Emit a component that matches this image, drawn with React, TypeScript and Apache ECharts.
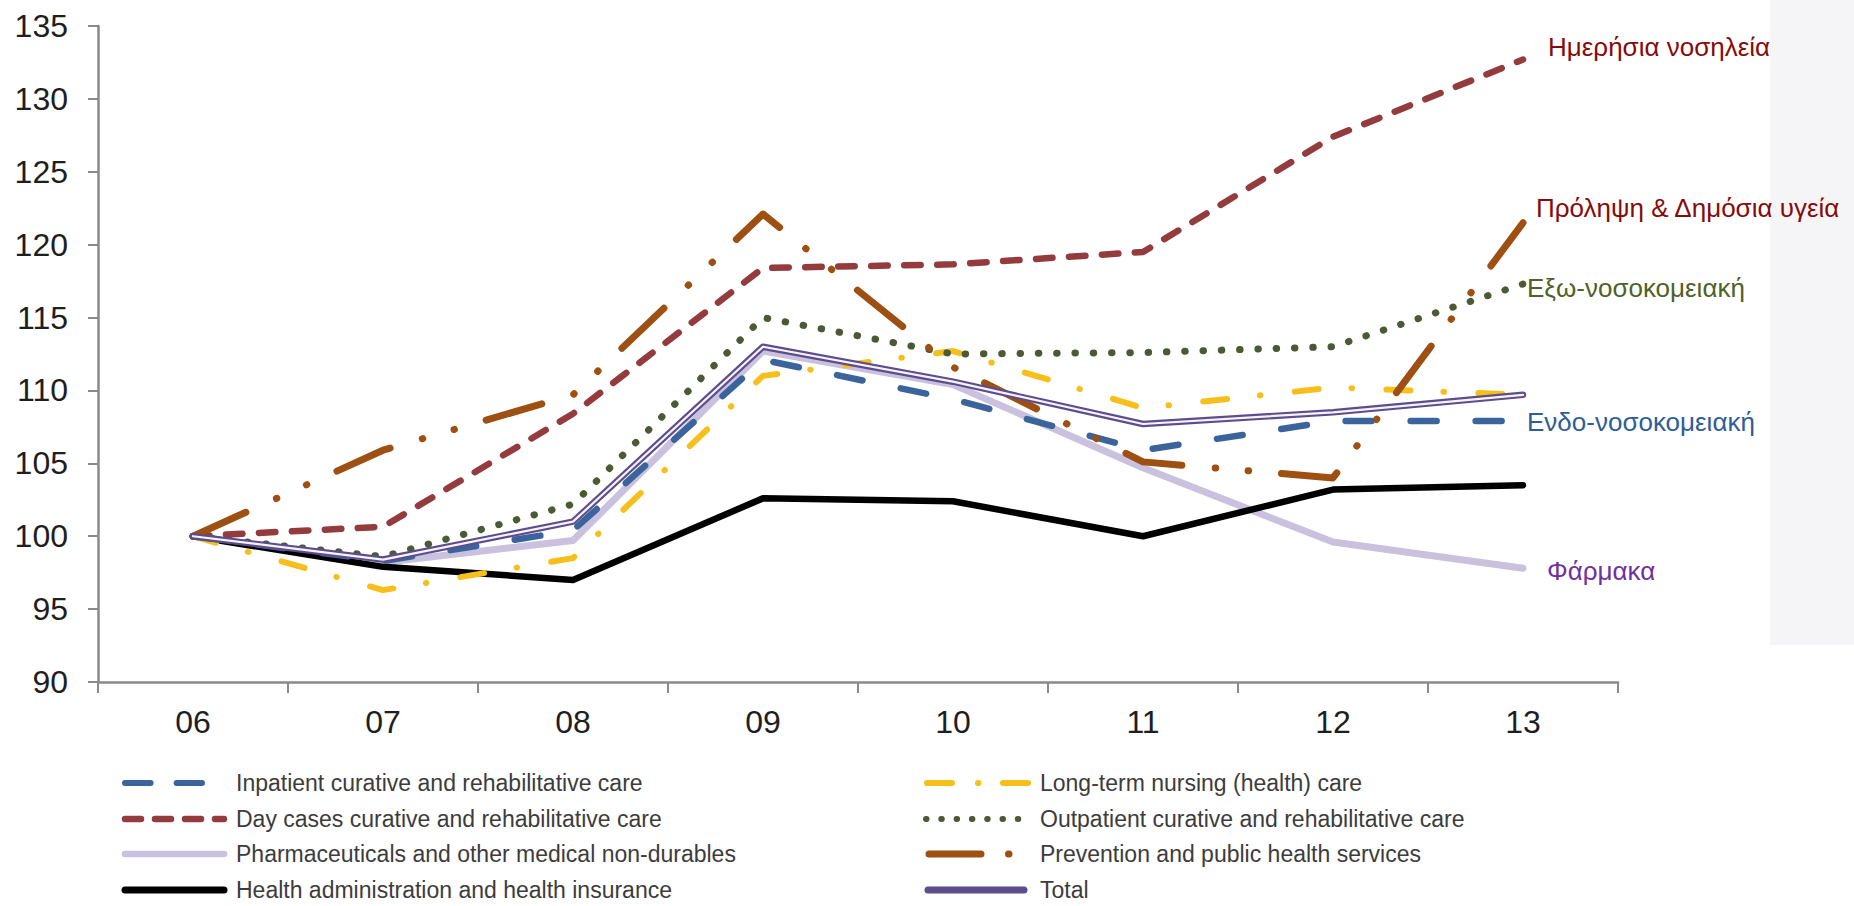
import React, { useEffect, useRef } from "react";
import * as echarts from "echarts";

const years = ["06", "07", "08", "09", "10", "11", "12", "13"];
const yMin = 90;
const yMax = 135;
const yStep = 5;

const inpatient = [100, 98.3, 100.4, 112.1, 109.4, 105.9, 107.9, 107.9];
const dayCases = [100, 100.65, 108.4, 118.4, 118.65, 119.5, 127.4, 132.7];
const pharma = [100, 98.2, 99.7, 112.7, 110.4, 104.7, 99.6, 97.8];
const healthAdmin = [100, 97.9, 97.0, 102.6, 102.4, 100.0, 103.2, 103.5];
const longTerm = [100, 96.3, 98.5, 111.0, 112.7, 108.8, 110.2, 109.7];
const outpatient = [100, 98.6, 102.2, 115.0, 112.5, 112.6, 113.0, 117.3];
const prevention = [100, 105.9, 109.7, 122.1, 111.6, 105.1, 104.0, 121.5];
const total = [100, 98.4, 101.0, 113.0, 110.6, 107.7, 108.5, 109.7];

const legendLeft = [
  "Inpatient curative and rehabilitative care",
  "Day cases curative and rehabilitative care",
  "Pharmaceuticals and other medical non-durables",
  "Health administration and health insurance",
];
const legendRight = [
  "Long-term nursing (health) care",
  "Outpatient curative and rehabilitative care",
  "Prevention and public health services",
  "Total",
];

const annotations = [
  { text: "Ημερήσια νοσηλεία", color: "#860B0B" },
  { text: "Πρόληψη & Δημόσια υγεία", color: "#860B0B" },
  { text: "Εξω-νοσοκομειακή", color: "#4F6228" },
  { text: "Ενδο-νοσοκομειακή", color: "#2F5D95" },
  { text: "Φάρμακα", color: "#7030A0" },
];

const C = {
  inpatient: "#3B649C",
  day: "#943B3D",
  pharma: "#C9C1DE",
  admin: "#000000",
  longTerm: "#F7BF1C",
  outpatient: "#4A5A35",
  prevention: "#9E4F12",
  total: "#5E4D8C",
};

const FONT = "'Liberation Sans', Arial, sans-serif";

export default function App() {
  const ref = useRef<HTMLDivElement>(null);

  useEffect(() => {
    if (!ref.current) return;
    const chart = echarts.init(ref.current, undefined, { renderer: "svg" });

    const mk = (name: string, data: number[], color: string, width: number, dash: any, z: number) => ({
      name,
      type: "line",
      data,
      symbol: "none",
      silent: true,
      z,
      lineStyle: { color, width, type: dash, cap: "round", join: "round" },
    });

    const series = [
      mk(legendLeft[2], pharma, C.pharma, 7, "solid", 2),
      mk(legendLeft[3], healthAdmin, C.admin, 6.5, "solid", 3),
      mk(legendRight[0], longTerm, C.longTerm, 6, [24, 33, 0.5, 34.5], 4),
      mk(legendLeft[0], inpatient, C.inpatient, 6.5, [26, 39], 5),
      mk(legendRight[1], outpatient, C.outpatient, 7, [0.5, 17.8], 6),
      mk(legendLeft[1], dayCases, C.day, 6.5, [16.5, 16.5], 7),
      mk(legendRight[2], prevention, C.prevention, 7, [58, 33.5, 0.5, 32.5, 0.5, 33], 8),
      mk(legendRight[3], total, C.total, 6.5, "solid", 9),
      mk("Total inner", total, "#f6f4fb", 2.2, "solid", 10),
    ];

    const rowsY = [783, 819, 854, 890];
    const legendGraphics: any[] = [];
    const legendTextStyle = { fill: "#3c3c3c", fontSize: 23, fontFamily: FONT, verticalAlign: "middle", align: "left" };
    const legendLines = [
      { x1: 125, x2: 202, y: rowsY[0], stroke: C.inpatient, w: 6, dash: [25.6, 26] },
      { x1: 125, x2: 224, y: rowsY[1], stroke: C.day, w: 6.5, dash: [16, 14] },
      { x1: 125, x2: 224, y: rowsY[2], stroke: C.pharma, w: 6.5, dash: null },
      { x1: 125, x2: 224, y: rowsY[3], stroke: C.admin, w: 7, dash: null },
      { x1: 927, x2: 1030, y: rowsY[0], stroke: C.longTerm, w: 6, dash: [25, 26, 0.5, 24.5] },
      { x1: 926, x2: 1033, y: rowsY[1], stroke: C.outpatient, w: 6, dash: [0.5, 14.8] },
      { x1: 929, x2: 1009, y: rowsY[2], stroke: C.prevention, w: 7, dash: [52, 27.5, 0.5, 30] },
      { x1: 928, x2: 1024, y: rowsY[3], stroke: C.total, w: 7, dash: null },
    ];
    legendLines.forEach((l) => {
      legendGraphics.push({
        type: "line",
        silent: true,
        shape: { x1: l.x1, y1: l.y, x2: l.x2, y2: l.y },
        style: { stroke: l.stroke, lineWidth: l.w, lineDash: l.dash || undefined, lineCap: "round" },
      });
    });
    legendLeft.forEach((t, i) => {
      legendGraphics.push({ type: "text", x: 236, y: rowsY[i], silent: true, style: { ...legendTextStyle, text: t } });
    });
    legendRight.forEach((t, i) => {
      legendGraphics.push({ type: "text", x: 1040, y: rowsY[i], silent: true, style: { ...legendTextStyle, text: t } });
    });

    const annPos = [
      { x: 1548, y: 47 },
      { x: 1536, y: 208 },
      { x: 1527, y: 288 },
      { x: 1527, y: 422 },
      { x: 1547, y: 571 },
    ];
    const annGraphics = annotations.map((a, i) => ({
      type: "text",
      x: annPos[i].x,
      y: annPos[i].y,
      silent: true,
      z: 20,
      style: { text: a.text, fill: a.color, fontSize: 26, fontFamily: FONT, verticalAlign: "middle", align: "left" },
    }));

    chart.setOption({
      animation: false,
      backgroundColor: "#ffffff",
      grid: { left: 98, right: 236, top: 26, bottom: 224, containLabel: false },
      xAxis: {
        type: "category",
        data: years,
        boundaryGap: true,
        axisLine: { lineStyle: { color: "#8a8a8a", width: 2.5 } },
        axisTick: { show: true, length: 11, lineStyle: { color: "#8a8a8a", width: 2 } },
        axisLabel: { color: "#1e1e1e", fontSize: 32, fontFamily: FONT, margin: 24 },
        splitLine: { show: false },
      },
      yAxis: {
        type: "value",
        min: yMin,
        max: yMax,
        interval: yStep,
        axisLine: { show: true, lineStyle: { color: "#8a8a8a", width: 2.5 } },
        axisTick: { show: true, length: 10, lineStyle: { color: "#8a8a8a", width: 2 } },
        axisLabel: { color: "#1e1e1e", fontSize: 32, fontFamily: FONT, margin: 30 },
        splitLine: { show: false },
      },
      graphic: [
        {
          type: "rect",
          silent: true,
          z: -10,
          shape: { x: 1770, y: 0, width: 84, height: 645 },
          style: { fill: "#f5f5f7" },
        },
        ...legendGraphics,
        ...annGraphics,
      ],
      series,
    });

    return () => chart.dispose();
  }, []);

  return (
    <div
      ref={ref}
      style={{ position: "fixed", left: 0, top: 0, width: 1854, height: 906, background: "#ffffff" }}
    />
  );
}
